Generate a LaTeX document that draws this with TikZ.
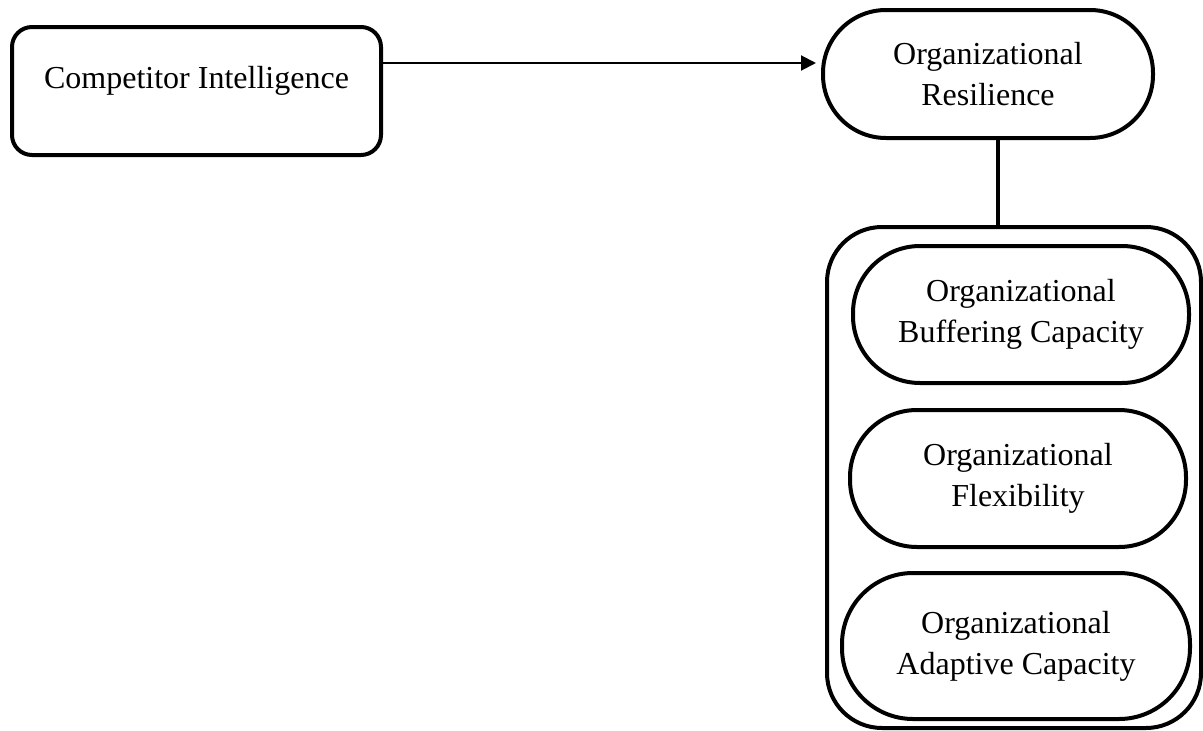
\documentclass[tikz,border=0pt]{standalone}
\usepackage{fontspec}
\setmainfont{Liberation Serif}
\usetikzlibrary{arrows.meta}
\begin{document}
\begin{tikzpicture}[x=1pt,y=-1pt,
  every node/.style={inner sep=0pt,outer sep=0pt,align=center,
    font=\fontsize{32}{41}\selectfont},
  boxline/.style={draw,line width=4pt},
  stadium/.style={boxline,rounded corners=#1},
  link/.style={line width=4pt},
  flow/.style={line width=2pt,-{Triangle[length=15pt,width=15pt]}}]
\useasboundingbox (0,0) rectangle (1203,731);
\node[boxline,rounded corners=20pt,minimum width=369pt,minimum height=128pt,
  text height=22pt,text depth=28pt] (comp) at (196.5,91) {Competitor Intelligence};
\node[stadium=63pt,minimum width=330pt,minimum height=128pt] (res) at (988,74)
  {Organizational\\Resilience};
\node[boxline,rounded corners=55pt,minimum width=374pt,minimum height=501pt] (grp)
  at (1014,477.5) {};
\node[stadium=67pt,minimum width=336pt,minimum height=137pt] (buf) at (1021,314.5)
  {Organizational\\Buffering Capacity};
\node[stadium=67pt,minimum width=336pt,minimum height=137pt] (flex) at (1018,478.5)
  {Organizational\\Flexibility};
\node[stadium=71pt,minimum width=348pt,minimum height=146pt] (adapt) at (1016,646)
  {Organizational\\Adaptive Capacity};
\draw[flow] ([yshift=28pt]comp.east) -- ([yshift=11pt,xshift=-7pt]res.west);
\draw[link] ([xshift=10pt]res.south) -- ([xshift=10pt]res.south |- grp.north);
\end{tikzpicture}
\end{document}
